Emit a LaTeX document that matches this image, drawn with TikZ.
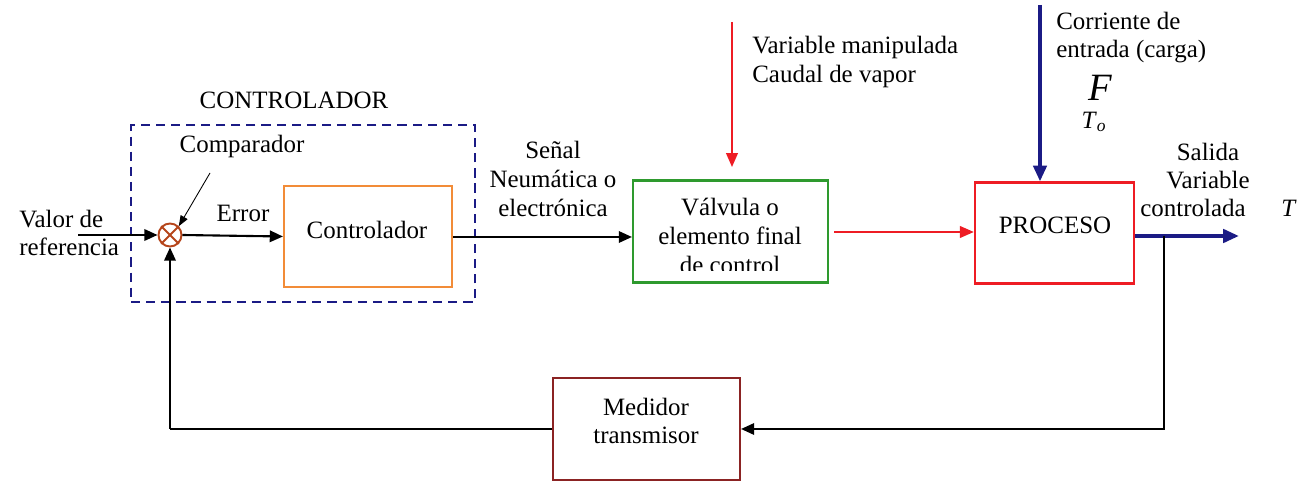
\documentclass[tikz,border=0pt]{standalone}
\usepackage{fontspec}
\setmainfont{LiberationSerif}[Extension=.ttf,UprightFont=*-Regular,ItalicFont=*-Italic,BoldFont=*-Bold]
\usetikzlibrary{arrows.meta}
\definecolor{navyline}{HTML}{1B1B85}
\definecolor{ctrlorange}{HTML}{F28C38}
\definecolor{valvegreen}{HTML}{2E9A2E}
\definecolor{procred}{HTML}{EE1C24}
\definecolor{measmaroon}{HTML}{8B2323}
\definecolor{sumbrown}{HTML}{B5451B}
\begin{document}
\begin{tikzpicture}[x=0.02cm,y=-0.02cm,
  font=\rmfamily\fontsize{14.2}{16.3}\selectfont,
  blockbox/.style={draw,line width=1.2pt,inner sep=0pt},
  txt/.style={inner sep=0pt,align=center},
  tip/.style={-{Triangle[length=7.5pt,width=6.5pt]}},
  flow/.style={line width=1.2pt,tip},
  redflow/.style={line width=1.5pt,draw=procred,-{Triangle[length=8pt,width=6.5pt,fill=procred]}},
  blueflow/.style={line width=2.2pt,draw=navyline,-{Triangle[length=9pt,width=7.5pt,fill=navyline]}},
]
\useasboundingbox (0,0) rectangle (1303,482);

% controller group (dashed frame)
\node[draw=navyline,dash pattern=on 5.2pt off 3.4pt,line width=1.4pt,
      minimum width=6.88cm,minimum height=3.54cm,inner sep=0pt] (group) at (303,213.5) {};
\node[txt] (grouptitle) at (294,100) {CONTROLADOR};

% summing junction
\node[draw=sumbrown,circle,line width=1.1pt,minimum size=0.46cm,inner sep=0pt] (sum) at (170,235) {};
\draw[sumbrown,line width=1.1pt] (sum.north east) -- (sum.south west)
                                  (sum.north west) -- (sum.south east);
\node[txt] (comptxt) at (242,147) {Comparador};
\coordinate (compfrom) at (210,173);
\draw[line width=0.5pt,-{Triangle[length=6pt,width=4.5pt]}] (compfrom) -- (sum.north east);

% blocks
\node[blockbox,draw=ctrlorange,minimum width=3.36cm,minimum height=2.02cm] (ctrl) at (368,236.5) {};
\node[txt] (ctrltxt) at (367,230) {Controlador};

\node[blockbox,draw=valvegreen,minimum width=3.9cm,minimum height=2.04cm] (valv) at (730.5,231.5) {};
\begin{scope}
  \clip (633,181) rectangle (828,271);
  \node[txt] (valvtxt) at (730,236) {Válvula o\\elemento final\\de control};
\end{scope}

\node[blockbox,draw=procred,minimum width=3.18cm,minimum height=2.02cm] (proc) at (1054.5,233) {};
\node[txt] (proctxt) at (1055,225) {PROCESO};

\node[blockbox,draw=measmaroon,minimum width=3.74cm,minimum height=2.04cm] (med) at (646.5,429) {};
\node[txt] (medtxt) at (646,421) {Medidor\\transmisor};

% reference input
\coordinate (refin) at (78,235);
\node[txt,align=left,anchor=west] (reftxt) at (19,233) {Valor de\\referencia};
\draw[flow] (refin) -- (sum.west);

% error signal
\draw[flow] (sum.east) -- (ctrl.west);
\node[txt] (errtxt) at (243,213) {Error};

% controller output to valve
\draw[flow] (ctrl.east |- 0,237) -- (valv.west |- 0,237);
\node[txt] (sigtxt) at (553,179) {Señal\\Neumática o\\electrónica};

% manipulated variable
\coordinate (manip) at (732,22);
\draw[redflow,shorten >=7pt] (manip) -- (manip |- valv.north);
\node[txt,align=left,anchor=west] (maniptxt) at (752,62) {Variable manipulada\\Caudal de vapor};

% valve to process
\draw[redflow,shorten <=3pt] (valv.east |- 0,232) -- (proc.west |- 0,232);

% load input
\coordinate (load) at (1040,5);
\draw[blueflow] (load) -- (load |- proc.north);
\node[txt,align=left,anchor=west] (loadtxt) at (1056,37.5) {Corriente de\\entrada (carga)};
\node[txt] (loadF) at (1100,88) {\fontsize{22}{22}\selectfont\textit{F}};
\node[txt] (loadT) at (1094,122) {\textit{T}\textsubscript{\textit{o}}};

% controlled output
\coordinate (out) at (1239,236);
\draw[blueflow] (proc.east |- out) -- (out);
\node[txt] (outtxt) at (1208,166) {Salida\\Variable};
\node[txt] (outtxt2) at (1193,208) {controlada};
\node[txt] (outT) at (1289,208) {\textit{T}};

% feedback path
\coordinate (tap) at (1164,236);
\coordinate (tapdown) at (1164,429);
\coordinate (fbcorner) at (170,429);
\draw[flow] (tap) -- (tapdown) -- (med.east);
\draw[line width=1.3pt] (med.west) -- (fbcorner);
\draw[flow] (fbcorner) -- (sum.south);
\end{tikzpicture}
\end{document}
